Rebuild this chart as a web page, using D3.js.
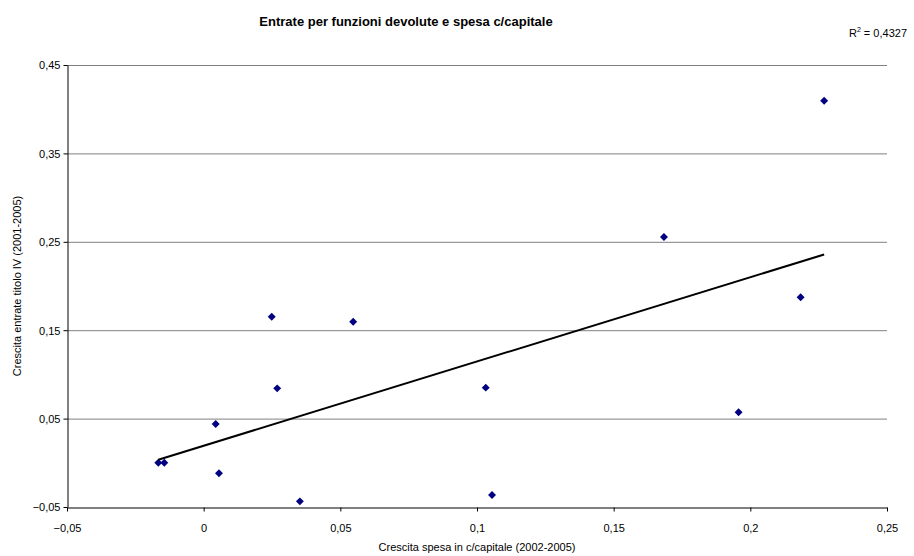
<!DOCTYPE html>
<html>
<head>
<meta charset="utf-8">
<script src="https://cdn.jsdelivr.net/npm/d3@7/dist/d3.min.js"></script>
<style>
  html, body { margin: 0; padding: 0; background: #fff; }
  svg { display: block; font-family: Arial, "Liberation Sans", sans-serif; }
</style>
</head>
<body>
<svg id="chart" width="914" height="556"></svg>
<script>
// Crescita spesa in c/capitale (2002-2005) per ente
const spesaCapitale = [-0.0166, -0.0144, 0.0044, 0.0056, 0.0249, 0.0269, 0.0352,
                       0.0547, 0.1032, 0.1055, 0.1684, 0.1957, 0.2184, 0.2270];
// Crescita entrate titolo IV (2001-2005) per ente
const entrateTitoloIV = [0.0000, 0.0000, 0.0439, -0.0119, 0.1653, 0.0842, -0.0436,
                         0.1596, 0.0850, -0.0364, 0.2554, 0.0571, 0.1872, 0.4096];

const xTicks = [-0.05, 0, 0.05, 0.1, 0.15, 0.2, 0.25];
const yTicks = [-0.05, 0.05, 0.15, 0.25, 0.35, 0.45];

const titleText = "Entrate per funzioni devolute e spesa c/capitale";
const xTitle = "Crescita spesa in c/capitale (2002-2005)";
const yTitle = "Crescita entrate titolo IV (2001-2005)";
const r2Text = "0,4327";

const svg = d3.select("#chart");
const plot = { left: 67, right: 887, top: 65, bottom: 507 };

const x = d3.scaleLinear().domain([-0.05, 0.25]).range([plot.left, plot.right]);
const y = d3.scaleLinear().domain([-0.05, 0.45]).range([plot.bottom, plot.top]);

const fmt = v => (Math.abs(v) < 1e-9 ? "0" : d3.format("~g")(+v.toFixed(4))).replace(".", ",");

// horizontal gridlines
svg.append("g")
  .selectAll("line")
  .data(yTicks.filter(v => v > -0.05))
  .join("line")
  .attr("x1", plot.left).attr("x2", plot.right)
  .attr("y1", d => y(d) + 0.5).attr("y2", d => y(d) + 0.5)
  .attr("stroke", "#808080").attr("stroke-width", 1);

// axes
const xAxis = d3.axisBottom(x).tickValues(xTicks).tickFormat(fmt).tickSize(4).tickSizeOuter(0);
const yAxis = d3.axisLeft(y).tickValues(yTicks).tickFormat(fmt).tickSize(4).tickSizeOuter(0);

const gx = svg.append("g").attr("transform", `translate(0,${plot.bottom + 0.5})`).call(xAxis);
const gy = svg.append("g").attr("transform", `translate(${plot.left + 0.5},0)`).call(yAxis);

[gx, gy].forEach(g => {
  g.select(".domain").attr("stroke", "#000");
  g.selectAll(".tick line").attr("stroke", "#000");
  g.selectAll(".tick text").attr("fill", "#000").attr("font-size", "11px")
    .attr("font-family", "Arial, 'Liberation Sans', sans-serif");
});
gx.selectAll(".tick text").attr("dy", null).attr("y", 24);
gy.selectAll(".tick text").attr("x", -7).attr("dy", "0.35em");

// linear trend (least squares)
const n = spesaCapitale.length;
const mx = d3.mean(spesaCapitale), my = d3.mean(entrateTitoloIV);
let sxy = 0, sxx = 0;
for (let i = 0; i < n; i++) {
  sxy += (spesaCapitale[i] - mx) * (entrateTitoloIV[i] - my);
  sxx += (spesaCapitale[i] - mx) ** 2;
}
const slope = sxy / sxx, intercept = my - slope * mx;
const [xmin, xmax] = d3.extent(spesaCapitale);

// points
const diamond = d3.symbol().type(d3.symbolDiamond2).size(40);
svg.append("g")
  .selectAll("path")
  .data(spesaCapitale.map((v, i) => [v, entrateTitoloIV[i]]))
  .join("path")
  .attr("d", diamond)
  .attr("transform", d => `translate(${x(d[0])},${y(d[1])})`)
  .attr("fill", "#000080");

svg.append("line")
  .attr("x1", x(xmin)).attr("y1", y(intercept + slope * xmin))
  .attr("x2", x(xmax)).attr("y2", y(intercept + slope * xmax))
  .attr("stroke", "#000").attr("stroke-width", 2);

// titles
svg.append("text")
  .attr("x", 406).attr("y", 26)
  .attr("text-anchor", "middle")
  .attr("font-size", "13px").attr("font-weight", "bold")
  .text(titleText);

const r2 = svg.append("text").attr("x", 907).attr("y", 37)
  .attr("text-anchor", "end").attr("font-size", "11px");
r2.append("tspan").text("R");
r2.append("tspan").attr("font-size", "7px").attr("dy", -5).text("2");
r2.append("tspan").attr("dy", 5).text(" = " + r2Text);

svg.append("text")
  .attr("x", (plot.left + plot.right) / 2).attr("y", 551)
  .attr("text-anchor", "middle").attr("font-size", "11px")
  .text(xTitle);

svg.append("text")
  .attr("transform", `translate(21,${(plot.top + plot.bottom) / 2}) rotate(-90)`)
  .attr("text-anchor", "middle").attr("font-size", "11px")
  .text(yTitle);
</script>
</body>
</html>
